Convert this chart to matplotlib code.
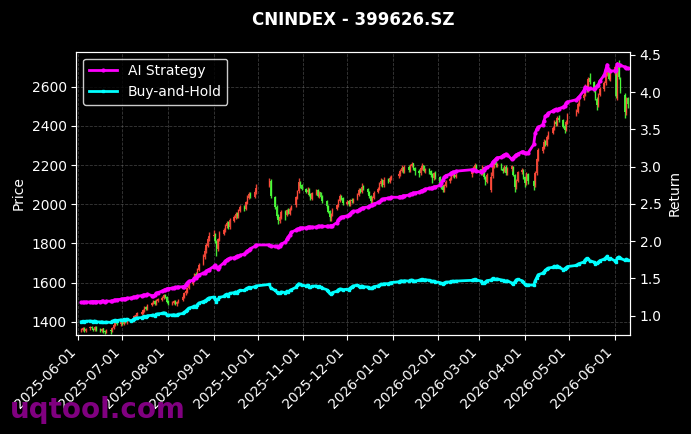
#Grafico de velas del indice CNINDEX 399626.SZ con el rendimiento acumulado de la
#estrategia AI y de Buy-and-Hold en un segundo eje. Fondo negro, marca de agua abajo.

import numpy as np                 # Arreglos numericos
import pandas as pd                # Fechas de las sesiones
import matplotlib
matplotlib.use("Agg")
import matplotlib.pyplot as plt    # Graficos
import matplotlib.dates as mdates  # Formato de fechas en el eje x


# 1. CALENDARIO DE SESIONES (dias habiles sin festivos de la bolsa china)

festivos = ["2025-06-02", "2025-10-01", "2025-10-02", "2025-10-03", "2025-10-06",
            "2025-10-07", "2025-10-08", "2026-01-01", "2026-01-02", "2026-02-16",
            "2026-02-17", "2026-02-18", "2026-02-19", "2026-02-20", "2026-02-23",
            "2026-04-06", "2026-05-01", "2026-05-04", "2026-05-05"]
sesiones = pd.bdate_range("2025-06-02", "2026-06-30")
sesiones = sesiones[~sesiones.isin(pd.to_datetime(festivos))]


# 2. DATOS (una fila por semana)

apertura = [
    1358, 1360, 1370, 1352,
    1366, 1374, 1365, 1357, 1375,
    1362, 1352, 1366, 1352, 1344,
    1360, 1350, 1368, 1382, 1395,
    1386, 1398, 1388, 1405, 1396,
    1408, 1402, 1414, 1425, 1438,
    1440, 1446, 1458, 1474, 1464,
    1486, 1494, 1506, 1490, 1508,
    1512, 1520, 1536, 1526, 1505,
    1490, 1496, 1508, 1488, 1500,
    1510, 1526, 1548, 1554, 1570,
    1594, 1615, 1645, 1628, 1665,
    1695, 1730, 1765, 1786, 1828,
    1838, 1848, 1808, 1770, 1818,
    1850, 1866, 1888, 1908, 1882,
    1915, 1932, 1955, 1938, 1965,
    1988, 1975, 2008, 2032, 2052,
    2038, 2060,
    2095, 2120,
    2035, 1988, 1945, 1915, 1932,
    1962, 1945, 1972, 1952, 1975,
    1995, 2032, 2065, 2110, 2098,
    2078, 2060, 2078, 2050, 2028,
    2052, 2072, 2040, 2060, 2038,
    2015, 1992, 1965, 1930, 1948,
    1975, 1992, 2015, 2042, 2030,
    2002, 2015, 1998, 2022, 2012,
    2028, 2045, 2078, 2060, 2092,
    2080, 2062, 2042, 2015, 2032,
    2060, 2078, 2102, 2122, 2096,
    2128, 2115, 2132,
    2142, 2152, 2170, 2188, 2165,
    2192, 2172, 2196, 2208, 2185,
    2172, 2158, 2182, 2198, 2168,
    2180, 2168, 2152, 2132, 2160,
    2138, 2112, 2092, 2070, 2095,
    2118, 2128, 2145, 2158, 2140,
    2152, 2165, 2182, 2200,
    2178, 2158, 2188, 2138, 2115,
    2070, 2142, 2192, 2212, 2195,
    2200, 2182, 2168, 2192, 2158,
    2178, 2190, 2148, 2088, 2118,
    2162, 2172, 2138, 2108, 2155,
    2118, 2098, 2158, 2228,
    2270, 2288, 2322, 2300, 2342,
    2365, 2388, 2422, 2405, 2442,
    2428, 2398, 2378, 2418,
    2458, 2472, 2508,
    2542, 2558, 2602, 2582, 2645,
    2622, 2582, 2538, 2502, 2558,
    2590, 2618, 2662, 2692, 2638,
    2672, 2700, 2540, 2712, 2640,
    2560, 2465, 2540,
]

maximo = [
    1370, 1375, 1374, 1369,
    1380, 1379, 1370, 1378, 1379,
    1368, 1368, 1370, 1358, 1362,
    1364, 1374, 1390, 1398, 1400,
    1404, 1402, 1408, 1410, 1412,
    1412, 1420, 1432, 1445, 1450,
    1455, 1466, 1478, 1480, 1492,
    1502, 1512, 1510, 1516, 1522,
    1530, 1542, 1540, 1530, 1510,
    1504, 1512, 1512, 1508, 1518,
    1534, 1552, 1562, 1578, 1598,
    1625, 1650, 1652, 1675, 1700,
    1745, 1775, 1800, 1835, 1858,
    1868, 1855, 1815, 1828, 1862,
    1878, 1898, 1915, 1912, 1930,
    1945, 1960, 1962, 1975, 1995,
    1995, 2018, 2045, 2062, 2060,
    2070, 2105,
    2135, 2128,
    2040, 1995, 1950, 1940, 1968,
    1968, 1978, 1980, 1985, 1998,
    2042, 2075, 2135, 2118, 2102,
    2085, 2088, 2082, 2058, 2062,
    2080, 2078, 2065, 2064, 2045,
    2020, 1998, 1970, 1955, 1980,
    2002, 2025, 2050, 2048, 2035,
    2020, 2022, 2028, 2030, 2032,
    2055, 2085, 2082, 2110, 2098,
    2085, 2068, 2048, 2042, 2065,
    2088, 2112, 2132, 2128, 2140,
    2132, 2145, 2150,
    2162, 2180, 2198, 2192, 2202,
    2198, 2206, 2215, 2212, 2190,
    2178, 2192, 2210, 2202, 2185,
    2185, 2175, 2158, 2165, 2168,
    2142, 2118, 2098, 2105, 2122,
    2138, 2155, 2165, 2162, 2158,
    2178, 2195, 2210, 2205,
    2182, 2198, 2192, 2145, 2158,
    2165, 2205, 2225, 2220, 2212,
    2208, 2190, 2202, 2198, 2188,
    2202, 2195, 2152, 2128, 2172,
    2185, 2178, 2145, 2165, 2160,
    2122, 2168, 2238, 2288,
    2298, 2332, 2330, 2355, 2372,
    2398, 2430, 2428, 2452, 2455,
    2435, 2410, 2428, 2465,
    2485, 2522, 2560,
    2572, 2612, 2610, 2650, 2668,
    2628, 2592, 2545, 2568, 2598,
    2630, 2680, 2700, 2698, 2685,
    2712, 2705, 2728, 2738, 2648,
    2568, 2545, 2548,
]

minimo = [
    1350, 1355, 1348, 1347,
    1360, 1361, 1352, 1352, 1355,
    1348, 1346, 1344, 1338, 1340,
    1336, 1345, 1364, 1378, 1382,
    1380, 1384, 1384, 1392, 1390,
    1398, 1398, 1410, 1420, 1430,
    1435, 1440, 1452, 1460, 1460,
    1480, 1488, 1486, 1485, 1500,
    1506, 1515, 1522, 1496, 1486,
    1484, 1490, 1485, 1482, 1495,
    1505, 1520, 1538, 1548, 1565,
    1588, 1610, 1622, 1620, 1658,
    1690, 1722, 1752, 1780, 1812,
    1830, 1800, 1735, 1762, 1810,
    1842, 1858, 1880, 1872, 1875,
    1908, 1925, 1930, 1930, 1958,
    1965, 1970, 2000, 2025, 2030,
    2030, 2052,
    2088, 2030,
    1978, 1930, 1900, 1905, 1925,
    1920, 1938, 1948, 1945, 1968,
    1988, 2025, 2058, 2085, 2072,
    2055, 2052, 2040, 2022, 2020,
    2046, 2035, 2032, 2030, 2008,
    1982, 1955, 1912, 1915, 1940,
    1968, 1985, 2010, 2020, 1995,
    1995, 1992, 1992, 2005, 2005,
    2022, 2040, 2055, 2055, 2075,
    2052, 2032, 2002, 2008, 2028,
    2055, 2072, 2095, 2090, 2090,
    2108, 2110, 2125,
    2132, 2145, 2162, 2160, 2158,
    2165, 2165, 2188, 2175, 2150,
    2140, 2150, 2175, 2162, 2160,
    2155, 2140, 2110, 2125, 2130,
    2100, 2080, 2060, 2062, 2088,
    2110, 2122, 2138, 2135, 2135,
    2140, 2158, 2175, 2165,
    2148, 2150, 2130, 2100, 2108,
    2060, 2135, 2185, 2190, 2188,
    2175, 2160, 2162, 2148, 2150,
    2170, 2142, 2062, 2080, 2112,
    2155, 2130, 2090, 2100, 2105,
    2075, 2090, 2150, 2220,
    2262, 2280, 2298, 2295, 2335,
    2358, 2380, 2400, 2400, 2422,
    2388, 2365, 2372, 2410,
    2452, 2465, 2500,
    2530, 2550, 2575, 2575, 2615,
    2572, 2530, 2480, 2495, 2550,
    2580, 2610, 2655, 2632, 2630,
    2660, 2540, 2532, 2640, 2570,
    2440, 2458, 2492,
]

cierre = [
    1362, 1368, 1356, 1364,
    1371, 1366, 1359, 1372, 1360,
    1355, 1363, 1350, 1346, 1358,
    1352, 1370, 1384, 1392, 1388,
    1396, 1390, 1402, 1398, 1406,
    1404, 1415, 1428, 1436, 1442,
    1448, 1460, 1472, 1466, 1485,
    1496, 1504, 1492, 1510, 1515,
    1522, 1534, 1528, 1502, 1494,
    1498, 1506, 1490, 1502, 1512,
    1528, 1545, 1556, 1572, 1590,
    1618, 1642, 1630, 1668, 1690,
    1735, 1762, 1790, 1822, 1840,
    1845, 1810, 1775, 1820, 1852,
    1868, 1890, 1905, 1880, 1918,
    1935, 1952, 1940, 1968, 1985,
    1978, 2010, 2035, 2050, 2040,
    2062, 2085,
    2118, 2040,
    1985, 1942, 1918, 1935, 1960,
    1948, 1970, 1955, 1978, 1992,
    2035, 2068, 2112, 2095, 2080,
    2062, 2075, 2048, 2030, 2055,
    2070, 2042, 2058, 2035, 2018,
    1990, 1962, 1935, 1950, 1972,
    1995, 2018, 2040, 2028, 2005,
    2012, 2000, 2020, 2015, 2025,
    2048, 2075, 2062, 2090, 2082,
    2060, 2040, 2018, 2035, 2058,
    2080, 2105, 2120, 2098, 2125,
    2118, 2135, 2140,
    2155, 2172, 2185, 2168, 2190,
    2175, 2198, 2205, 2182, 2170,
    2160, 2185, 2195, 2170, 2178,
    2165, 2150, 2135, 2158, 2140,
    2110, 2090, 2072, 2098, 2115,
    2130, 2148, 2155, 2142, 2150,
    2168, 2185, 2198, 2175,
    2160, 2185, 2140, 2118, 2150,
    2140, 2195, 2215, 2198, 2205,
    2185, 2170, 2195, 2160, 2180,
    2195, 2150, 2090, 2120, 2165,
    2175, 2140, 2110, 2158, 2120,
    2095, 2160, 2230, 2275,
    2290, 2320, 2305, 2345, 2362,
    2390, 2420, 2408, 2440, 2430,
    2395, 2380, 2420, 2455,
    2475, 2510, 2545,
    2560, 2600, 2585, 2640, 2625,
    2580, 2540, 2505, 2560, 2588,
    2620, 2665, 2690, 2640, 2675,
    2698, 2552, 2715, 2650, 2580,
    2470, 2535, 2510,
]

ai_strategy = [
    1.18, 1.18, 1.18, 1.185,
    1.185, 1.19, 1.19, 1.19, 1.19,
    1.19, 1.195, 1.195, 1.19, 1.195,
    1.195, 1.20, 1.205, 1.21, 1.215,
    1.22, 1.22, 1.23, 1.23, 1.235,
    1.24, 1.245, 1.25, 1.255, 1.26,
    1.27, 1.275, 1.28, 1.28, 1.29,
    1.27, 1.26, 1.28, 1.30, 1.31,
    1.33, 1.34, 1.35, 1.36, 1.365,
    1.37, 1.375, 1.38, 1.38, 1.385,
    1.39, 1.39, 1.41, 1.44, 1.46,
    1.48, 1.50, 1.51, 1.53, 1.55,
    1.57, 1.58, 1.60, 1.61, 1.62,
    1.66, 1.68, 1.65, 1.63, 1.66,
    1.71, 1.73, 1.75, 1.76, 1.77,
    1.78, 1.79, 1.80, 1.80, 1.81,
    1.83, 1.85, 1.87, 1.88, 1.90,
    1.93, 1.95,
    1.95, 1.94,
    1.93, 1.93, 1.92, 1.94, 1.96,
    1.99, 2.03, 2.06, 2.09, 2.12,
    2.15, 2.16, 2.17, 2.18, 2.18,
    2.18, 2.19, 2.19, 2.19, 2.19,
    2.19, 2.20, 2.20, 2.20, 2.20,
    2.20, 2.20, 2.20, 2.21, 2.21,
    2.25, 2.29, 2.31, 2.32, 2.33,
    2.34, 2.35, 2.37, 2.39, 2.40,
    2.41, 2.42, 2.43, 2.44, 2.45,
    2.46, 2.47, 2.48, 2.49, 2.50,
    2.52, 2.53, 2.55, 2.56, 2.57,
    2.58, 2.58, 2.59,
    2.59, 2.60, 2.60, 2.61, 2.61,
    2.62, 2.63, 2.64, 2.65, 2.65,
    2.66, 2.67, 2.68, 2.69, 2.70,
    2.71, 2.71, 2.72, 2.73, 2.73,
    2.75, 2.78, 2.82, 2.86, 2.88,
    2.90, 2.92, 2.93, 2.93, 2.94,
    2.96, 2.96, 2.95, 2.94,
    2.93, 2.94, 2.96, 2.98, 2.99,
    3.02, 3.06, 3.08, 3.10, 3.12,
    3.13, 3.15, 3.16, 3.17, 3.16,
    3.10, 3.12, 3.14, 3.16, 3.17,
    3.20, 3.20, 3.19, 3.18, 3.18,
    3.30, 3.45, 3.50, 3.53,
    3.56, 3.62, 3.68, 3.70, 3.72,
    3.75, 3.76, 3.77, 3.76, 3.78,
    3.80, 3.82, 3.85, 3.87,
    3.90, 3.92, 3.94,
    4.02, 4.07, 4.06, 4.04, 4.05,
    4.04, 4.06, 4.08, 4.10, 4.15,
    4.23, 4.30, 4.37, 4.30, 4.28,
    4.29, 4.30, 4.38, 4.37, 4.36,
    4.34, 4.33, 4.32,
]

buy_hold = [
    0.92, 0.925, 0.92, 0.925,
    0.93, 0.925, 0.92, 0.93, 0.92,
    0.915, 0.92, 0.91, 0.91, 0.915,
    0.91, 0.925, 0.935, 0.94, 0.935,
    0.945, 0.94, 0.95, 0.945, 0.955,
    0.93, 0.945, 0.96, 0.965, 0.97,
    0.975, 0.985, 0.99, 0.985, 1.00,
    1.005, 1.01, 1.00, 1.02, 1.025,
    1.03, 1.04, 1.035, 1.015, 1.01,
    1.01, 1.015, 1.005, 1.01, 1.02,
    1.03, 1.045, 1.06, 1.08, 1.10,
    1.12, 1.13, 1.12, 1.15, 1.17,
    1.19, 1.20, 1.21, 1.23, 1.24,
    1.25, 1.22, 1.19, 1.22, 1.245,
    1.26, 1.28, 1.29, 1.27, 1.30,
    1.31, 1.32, 1.31, 1.33, 1.34,
    1.34, 1.36, 1.37, 1.38, 1.375,
    1.39, 1.40,
    1.42, 1.37,
    1.34, 1.32, 1.30, 1.305, 1.32,
    1.31, 1.33, 1.32, 1.34, 1.35,
    1.38, 1.41, 1.43, 1.42, 1.41,
    1.40, 1.41, 1.39, 1.38, 1.395,
    1.40, 1.385, 1.395, 1.38, 1.37,
    1.35, 1.33, 1.30, 1.29, 1.31,
    1.33, 1.35, 1.36, 1.355, 1.35,
    1.355, 1.35, 1.37, 1.385, 1.40,
    1.41, 1.40, 1.39, 1.40, 1.39,
    1.385, 1.375, 1.37, 1.375, 1.39,
    1.40, 1.41, 1.425, 1.42, 1.43,
    1.43, 1.44, 1.445,
    1.455, 1.465, 1.47, 1.46, 1.47,
    1.465, 1.475, 1.48, 1.47, 1.465,
    1.475, 1.485, 1.49, 1.48, 1.485,
    1.475, 1.47, 1.46, 1.465, 1.455,
    1.445, 1.435, 1.43, 1.44, 1.45,
    1.455, 1.46, 1.465, 1.46, 1.465,
    1.475, 1.485, 1.49, 1.48,
    1.465, 1.445, 1.44, 1.45, 1.47,
    1.48, 1.50, 1.495, 1.49, 1.495,
    1.48, 1.475, 1.47, 1.465, 1.47,
    1.44, 1.43, 1.45, 1.48, 1.49,
    1.47, 1.45, 1.42, 1.41, 1.415,
    1.41, 1.47, 1.51, 1.55,
    1.57, 1.59, 1.61, 1.63, 1.64,
    1.65, 1.665, 1.66, 1.67, 1.655,
    1.62, 1.63, 1.645, 1.66,
    1.675, 1.69, 1.70,
    1.72, 1.75, 1.77, 1.76, 1.74,
    1.72, 1.70, 1.705, 1.72, 1.74,
    1.76, 1.78, 1.80, 1.76, 1.77,
    1.74, 1.72, 1.78, 1.79, 1.77,
    1.745, 1.76, 1.75,
]

titulo = "CNINDEX - 399626.SZ"
ticks_precio = [1400, 1600, 1800, 2000, 2200, 2400, 2600]
ticks_retorno = [1.0, 1.5, 2.0, 2.5, 3.0, 3.5, 4.0, 4.5]


# 3. PREPARAR ARREGLOS

fechas = sesiones[:len(cierre)]              # Una sesion por vela
x = mdates.date2num(fechas)                  # Fechas como numero para las velas
apertura = np.array(apertura, dtype=float)
cierre = np.array(cierre, dtype=float)
sube = cierre >= apertura                    # Rojo sube, verde baja (convencion china)
colores = np.where(sube, "#ff4a3a", "#4aff3a")


# 4. FIGURA

plt.style.use("dark_background")
fig = plt.figure(figsize=(6.91, 4.34), dpi=100)
ax = fig.add_axes([0.1107, 0.2274, 0.8010, 0.6535])

# Velas: mecha de minimo a maximo y cuerpo de apertura a cierre
ax.vlines(x, minimo, maximo, colors=colores, linewidth=1.0, alpha=0.9)
ax.bar(x, cierre - apertura, bottom=apertura, width=1.0, color=colores, alpha=0.9)

ax.set_ylim(1330.6, 2778.7)
ax.set_yticks(ticks_precio)
ax.set_ylabel("Price", fontsize=10)
ax.grid(True, linestyle="--", color="gray", alpha=0.45, linewidth=0.6)

# Segundo eje con los rendimientos
ax2 = ax.twinx()
ax2.plot(x, ai_strategy, color="magenta", marker="o", markersize=2,
         linewidth=2, label="AI Strategy")
ax2.plot(x, buy_hold, color="cyan", marker="s", markersize=2,
         linewidth=2, label="Buy-and-Hold")
ax2.set_ylim(0.737, 4.544)
ax2.set_yticks(ticks_retorno)
ax2.set_ylabel("Return", fontsize=10)
ax2.legend(loc="upper left", facecolor="black", edgecolor="white", fontsize=10)

# Eje x por meses
ax.set_xlim(mdates.datestr2num("2025-05-30 17:00"), mdates.datestr2num("2026-06-11 13:00"))
ax.xaxis.set_major_locator(mdates.MonthLocator())
ax.xaxis.set_major_formatter(mdates.DateFormatter("%Y-%m-%d"))
plt.setp(ax.get_xticklabels(), rotation=45, ha="right")

ax.set_title(titulo, fontsize=12, fontweight="bold", pad=19)

# Marca de agua
fig.text(0.014, 0.036, "uqtool.com", fontsize=20, fontweight="bold", color="purple")

fig.savefig("out.png", dpi=100, facecolor="black")
